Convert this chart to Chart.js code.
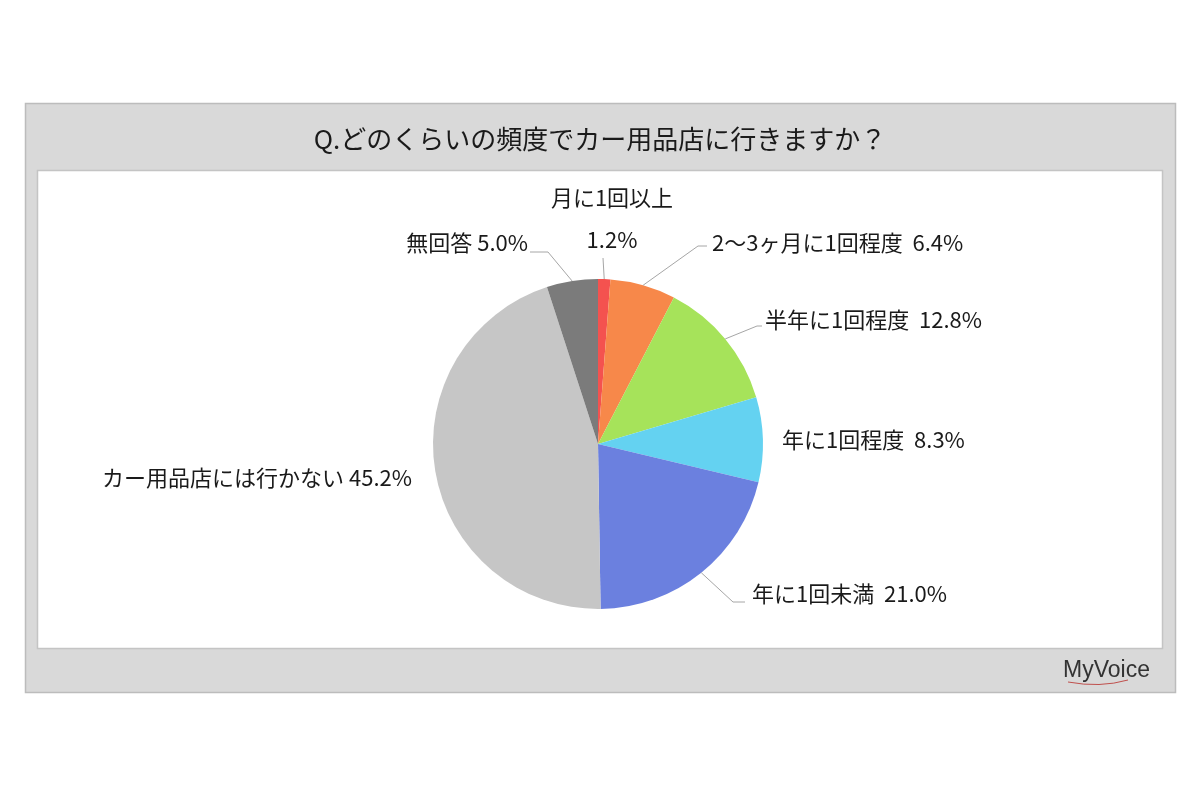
<!DOCTYPE html>
<html>
<head>
<meta charset="utf-8">
<script src="https://cdn.jsdelivr.net/npm/chart.js@4/dist/chart.umd.min.js"></script>
<style>
  html, body { margin: 0; padding: 0; background: #fff; }
  #wrap { width: 1200px; height: 799px; position: relative; }
</style>
</head>
<body>
<div id="wrap"><canvas id="pieChart" width="1200" height="799"></canvas></div>
<script>
const title = 'Q.どのくらいの頻度でカー用品店に行きますか？';
const categories = ['月に1回以上', '2～3ヶ月に1回程度', '半年に1回程度', '年に1回程度', '年に1回未満', 'カー用品店には行かない', '無回答'];
const values = [1.2, 6.4, 12.8, 8.3, 21.0, 45.2, 5.0];
const colors = ['#f4524f', '#f7884a', '#a6e35a', '#64d2f1', '#6b80df', '#c6c6c6', '#7b7b7b'];

// where each label goes, relative to the pie centre
const labelLayout = [
    { dx: 14, dy: -246, align: 'center', split: true, gap: ' ', lead: [[5, -186]] },
    { dx: 114, dy: -201, align: 'left', gap: '  ', lead: [[100, -198], [109, -198]] },
    { dx: 167, dy: -124, align: 'left', gap: '  ', lead: [[159, -118], [164, -118]] },
    { dx: 184, dy: -4, align: 'left', gap: '  ', lead: null },
    { dx: 154, dy: 150, align: 'left', gap: '  ', lead: [[135, 158], [147, 158]] },
    { dx: -186, dy: 34, align: 'right', gap: ' ', lead: null },
    { dx: -70, dy: -201, align: 'right', gap: ' ', lead: [[-50, -192], [-68, -192]] }
];

const FONT = '"Noto Sans CJK JP", "Noto Sans", sans-serif';

const framePlugin = {
    id: 'frame',
    beforeDraw(chart) {
        const ctx = chart.ctx;
        ctx.save();
        ctx.fillStyle = '#d9d9d9';
        ctx.fillRect(25, 103, 1150, 589);
        ctx.strokeStyle = '#bcbcbc';
        ctx.lineWidth = 1.5;
        ctx.strokeRect(25.5, 103.5, 1150, 589);
        ctx.fillStyle = '#ffffff';
        ctx.fillRect(37, 170, 1125, 478);
        ctx.strokeStyle = '#c4c4c4';
        ctx.lineWidth = 1.5;
        ctx.strokeRect(37.5, 170.5, 1125, 478);

        ctx.fillStyle = '#1a1a1a';
        ctx.font = '26px ' + FONT;
        ctx.textAlign = 'center';
        ctx.textBaseline = 'middle';
        ctx.fillText(title, 600, 139);

        // logo
        ctx.font = '23px "Liberation Sans", sans-serif';
        ctx.textAlign = 'right';
        ctx.fillStyle = '#333333';
        ctx.fillText('MyVoice', 1150, 671);
        ctx.strokeStyle = '#c0504d';
        ctx.lineWidth = 1;
        ctx.beginPath();
        ctx.moveTo(1068, 682);
        ctx.quadraticCurveTo(1100, 688, 1128, 680);
        ctx.stroke();
        ctx.restore();
    }
};

const labelPlugin = {
    id: 'sliceLabels',
    afterDraw(chart) {
        const ctx = chart.ctx;
        const arcs = chart.getDatasetMeta(0).data;
        ctx.save();
        ctx.font = '22px ' + FONT;
        ctx.fillStyle = '#1a1a1a';
        ctx.textBaseline = 'middle';
        arcs.forEach((arc, i) => {
            const lay = labelLayout[i];
            const cx = arc.x, cy = arc.y;
            const mid = (arc.startAngle + arc.endAngle) / 2;
            const r = arc.outerRadius;
            if (lay.lead) {
                ctx.strokeStyle = '#a6a6a6';
                ctx.lineWidth = 1;
                ctx.beginPath();
                ctx.moveTo(cx + Math.cos(mid) * r, cy + Math.sin(mid) * r);
                lay.lead.forEach(p => ctx.lineTo(cx + p[0], cy + p[1]));
                ctx.stroke();
            }
            const pct = values[i].toFixed(1) + '%';
            ctx.textAlign = lay.align;
            const x = cx + lay.dx, y = cy + lay.dy;
            if (lay.split) {
                ctx.fillText(categories[i], x, y);
                ctx.fillText(pct, x, y + 42);
            } else {
                ctx.fillText(categories[i] + lay.gap + pct, x, y);
            }
        });
        ctx.restore();
    }
};

new Chart(document.getElementById('pieChart').getContext('2d'), {
    type: 'pie',
    data: {
        labels: categories,
        datasets: [{
            data: values,
            backgroundColor: colors,
            borderWidth: 0
        }]
    },
    options: {
        responsive: false,
        animation: false,
        layout: { padding: { top: 279, bottom: 190, left: 433, right: 437 } },
        plugins: {
            legend: { display: false },
            tooltip: { enabled: false }
        }
    },
    plugins: [framePlugin, labelPlugin]
});
</script>
</body>
</html>
